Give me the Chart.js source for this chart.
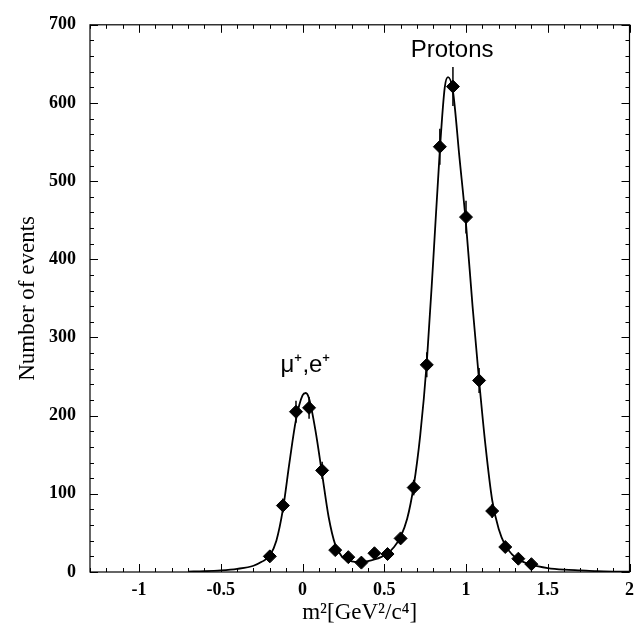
<!DOCTYPE html>
<html>
<head>
<meta charset="utf-8">
<script src="https://cdn.jsdelivr.net/npm/chart.js@4/dist/chart.umd.min.js"></script>
<style>
  html, body { margin: 0; padding: 0; background: #fff; }
  #wrap { width: 637px; height: 627px; }
</style>
</head>
<body>
<div id="wrap"><canvas id="chart"></canvas></div>
<script>
const binCenters = [-0.2, -0.12, -0.04, 0.04, 0.12, 0.2, 0.28, 0.36, 0.44, 0.52, 0.6,
                    0.68, 0.76, 0.84, 0.92, 1.0, 1.08, 1.16, 1.24, 1.32, 1.4];
const counts = [20, 85, 205, 210, 130, 28, 19, 12, 24, 23, 43,
                108, 265, 544, 621, 454, 245, 78, 32, 17, 10];
const countErrors = [4, 9, 14, 14, 11, 5, 4, 3, 5, 5, 7,
                     10, 16, 23, 25, 21, 16, 9, 6, 4, 3];

// fitted curve
const fitX = [-0.7, -0.6, -0.5, -0.4, -0.3, -0.25, -0.2, -0.16, -0.12, -0.08, -0.04, 0, 0.02,
              0.04, 0.08, 0.12, 0.16, 0.2, 0.24, 0.28, 0.32, 0.36, 0.4, 0.44, 0.48, 0.52,
              0.56, 0.6, 0.64, 0.68, 0.72, 0.76, 0.8, 0.84, 0.87, 0.89, 0.92, 0.96, 1.0,
              1.04, 1.08, 1.12, 1.16, 1.2, 1.24, 1.28, 1.32, 1.36, 1.4, 1.5, 1.6, 1.7,
              1.8, 1.9, 2.0];
const fitY = [0.5, 1, 2, 4, 8, 13, 21, 40, 80, 140, 195, 226, 229,
              222, 180, 125, 70, 35, 20, 15, 13, 13, 14, 16, 19, 24,
              32, 45, 68, 110, 175, 268, 400, 540, 620, 633, 615, 530, 445,
              340, 245, 160, 92, 55, 34, 23, 16, 12, 9, 5, 3, 2,
              1, 0.5, 0.3];

const xTickValues = [-1, -0.5, 0, 0.5, 1, 1.5, 2];
const xTickLabels = ['-1', '-0.5', '0', '0.5', '1', '1.5', '2'];
const yTickValues = [0, 100, 200, 300, 400, 500, 600, 700];

const peakLabels = [
  { text: 'Protons', x: 0.915, y: 667 },
  { text: 'μ⁺,e⁺', x: 0.018, y: 264 }
];

const plotLeft = 90, plotTop = 18, plotBottomGap = 55;
const serif = '"Liberation Serif", "Times New Roman", serif';

// error bars, inward ticks on all four sides, frame, peak labels
const decorPlugin = {
  id: 'decor',
  afterDatasetsDraw(chart) {
    const ctx = chart.ctx;
    const xs = chart.scales.x, ys = chart.scales.y;
    const a = chart.chartArea;
    ctx.save();
    ctx.strokeStyle = '#000';

    // error bars
    ctx.lineWidth = 1.5;
    binCenters.forEach((b, i) => {
      const px = xs.getPixelForValue(b);
      ctx.beginPath();
      ctx.moveTo(px, ys.getPixelForValue(counts[i] - countErrors[i]));
      ctx.lineTo(px, ys.getPixelForValue(counts[i] + countErrors[i]));
      ctx.stroke();
    });

    // frame
    ctx.lineWidth = 1.2;
    ctx.strokeRect(a.left, a.top, a.right - a.left, a.bottom - a.top);

    // ticks pointing inward
    ctx.lineWidth = 1;
    for (let k = -13; k <= 20; k++) {
      const v = k / 10;
      const px = Math.round(xs.getPixelForValue(v)) + 0.5;
      const len = (k % 5 === 0) ? 8 : 4;
      ctx.beginPath();
      ctx.moveTo(px, a.bottom); ctx.lineTo(px, a.bottom - len);
      ctx.moveTo(px, a.top); ctx.lineTo(px, a.top + len);
      ctx.stroke();
    }
    for (let v = 0; v <= 700; v += 20) {
      const py = Math.round(ys.getPixelForValue(v)) + 0.5;
      const len = (v % 100 === 0) ? 8 : 4;
      ctx.beginPath();
      ctx.moveTo(a.left, py); ctx.lineTo(a.left + len, py);
      ctx.moveTo(a.right, py); ctx.lineTo(a.right - len, py);
      ctx.stroke();
    }

    // peak labels
    ctx.fillStyle = '#000';
    ctx.textAlign = 'center';
    ctx.textBaseline = 'middle';
    ctx.font = '24px "Liberation Sans", Arial, sans-serif';
    peakLabels.forEach(l => {
      ctx.fillText(l.text, xs.getPixelForValue(l.x), ys.getPixelForValue(l.y));
    });
    ctx.restore();
  }
};

new Chart(document.getElementById('chart'), {
  type: 'scatter',
  data: {
    datasets: [
      {
        label: 'fit',
        type: 'line',
        data: fitX.map((x, i) => ({ x: x, y: fitY[i] })),
        borderColor: '#000',
        borderWidth: 1.8,
        pointRadius: 0,
        cubicInterpolationMode: 'monotone',
        fill: false,
        order: 2
      },
      {
        label: 'data',
        data: binCenters.map((x, i) => ({ x: x, y: counts[i] })),
        pointStyle: 'rectRot',
        pointRadius: 6.5,
        backgroundColor: '#000',
        borderColor: '#000',
        borderWidth: 1,
        order: 1
      }
    ]
  },
  options: {
    responsive: true,
    maintainAspectRatio: false,
    animation: false,
    layout: { padding: { top: plotTop, right: 0, left: 0, bottom: 0 } },
    plugins: { legend: { display: false }, tooltip: { enabled: false } },
    scales: {
      x: {
        type: 'linear',
        min: -1.3,
        max: 2,
        afterBuildTicks: s => { s.ticks = xTickValues.map(v => ({ value: v })); },
        afterFit: s => { s.height = plotBottomGap; s.paddingRight = 4; },
        grid: { display: false, drawTicks: false },
        border: { display: false },
        ticks: {
          padding: 8,
          color: '#000',
          font: { family: serif, size: 18, weight: 'bold' },
          maxRotation: 0,
          callback: v => xTickLabels[xTickValues.indexOf(v)]
        },
        title: {
          display: true,
          text: 'm²[GeV²/c⁴]',
          color: '#000',
          padding: { top: 0, bottom: 0 },
          font: { family: serif, size: 23 }
        }
      },
      y: {
        min: 0,
        max: 700,
        afterBuildTicks: s => { s.ticks = yTickValues.map(v => ({ value: v })); },
        afterFit: s => { s.width = plotLeft; },
        grid: { display: false, drawTicks: false },
        border: { display: false },
        ticks: {
          padding: 14,
          color: '#000',
          font: { family: serif, size: 18, weight: 'bold' }
        },
        title: {
          display: true,
          text: 'Number of events',
          color: '#000',
          padding: { top: 14, bottom: 0 },
          font: { family: serif, size: 23 }
        }
      }
    }
  },
  plugins: [decorPlugin]
});
</script>
</body>
</html>
